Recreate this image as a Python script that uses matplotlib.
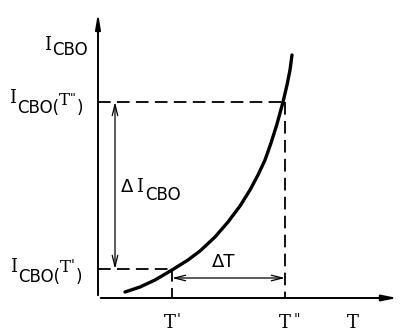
import matplotlib
matplotlib.use("Agg")
from matplotlib import pyplot as plt

# curve I_CBO(T) (x = T, y = I, screen-like units)
curve_T = [125, 140, 155, 172, 188, 200, 215, 228, 240, 250, 258, 265, 271, 277, 283, 287, 290, 292]
curve_I = [292, 287, 280, 270, 260, 251, 237, 222, 206, 190, 175, 160, 143, 124, 102, 85, 70, 55]

T1, T2 = 172, 285          # T', T''
I1, I2 = 269, 102          # I_CBO(T'), I_CBO(T'')
x0, y0 = 98, 298           # origin

fig = plt.figure(figsize=(4, 3.33), dpi=100)
ax = fig.add_axes([0, 0, 1, 1])
ax.set_xlim(0, 400)
ax.set_ylim(333, 0)
ax.axis('off')
renderer = fig.canvas.get_renderer()

SERIF = 'DejaVu Serif'
SANS = 'DejaVu Sans'


def chain(x, y, parts):
    # parts: (text, fontsize, dy, family, gap) ; y is baseline in data units
    for s, size, dy, fam, gap in parts:
        t = ax.text(x + gap, y + dy, s, fontsize=size, family=fam, ha='left', va='baseline')
        bb = t.get_window_extent(renderer)
        x = x + gap + bb.width  # 1 data unit == 1 pixel
    return x


# axes with arrows
ax.annotate('', xy=(400, y0), xytext=(x0, y0),
            arrowprops=dict(arrowstyle='-|>,head_length=0.9,head_width=0.18', lw=1.4, color='black'))
ax.annotate('', xy=(x0, 10), xytext=(x0, y0),
            arrowprops=dict(arrowstyle='-|>,head_length=0.9,head_width=0.15', lw=1.4, color='black'))

# curve
ax.plot(curve_T, curve_I, color='black', lw=2.4, solid_capstyle='round')

# dashed guides
ds = dict(color='black', lw=1.3, dashes=(7, 3.5))
ax.plot([x0, T2], [I2, I2], **ds)
ax.plot([T2, T2], [I2, y0], **ds)
ax.plot([x0, T1], [I1, I1], **ds)
ax.plot([T1, T1], [I1, y0], **ds)

# delta arrows
ax.annotate('', xy=(115, I2), xytext=(115, I1),
            arrowprops=dict(arrowstyle='<->,head_length=0.8,head_width=0.2', lw=0.9, color='black',
                            shrinkA=0, shrinkB=0))
ax.annotate('', xy=(T1, 278), xytext=(T2, 278),
            arrowprops=dict(arrowstyle='<->,head_length=0.8,head_width=0.2', lw=0.9, color='black',
                            shrinkA=0, shrinkB=0))

fs = 13
sub = 12
# I_CBO axis label
chain(44, 50, [('I', fs, 0, SERIF, 0), ('CBO', sub, 5, SANS, 1)])
# I_CBO(T'')
chain(9, 103, [('I', fs, 0, SERIF, 0), ('CBO(', sub, 10, SANS, 1), ('T', sub, 2, SERIF, 0),
               ('"', 9, -1, SANS, 0), (')', sub, 10, SANS, 1)])
# I_CBO(T')
chain(10, 272, [('I', fs, 0, SERIF, 0), ('CBO(', sub, 10, SANS, 1), ('T', sub, 0, SERIF, 0),
                ("'", 10, -3, SANS, 0), (')', sub, 10, SANS, 1)])
# Delta I_CBO
chain(121, 192, [('Δ', fs, 0, SANS, 0), ('I', fs, 0, SERIF, 3), ('CBO', sub, 8, SANS, 2)])
# Delta T
chain(212, 267, [('ΔT', fs, 0, SANS, 0)])
# T axis ticks
chain(164, 328, [('T', fs, 0, SERIF, 0), ("'", 10, -5, SANS, 1)])
chain(279, 328, [('T', fs, 0, SERIF, 0), ('"', 10, -5, SANS, 3)])
chain(347, 328, [('T', fs, 0, SERIF, 0)])

fig.savefig('out.png', dpi=100)
